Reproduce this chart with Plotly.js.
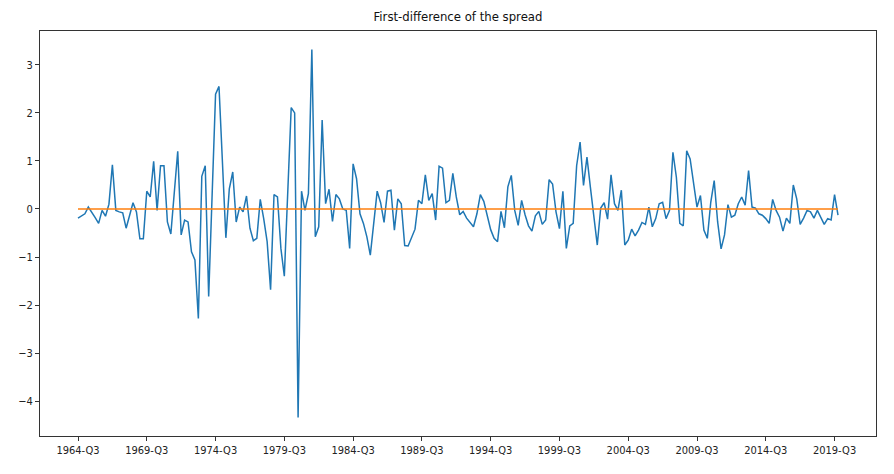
<!DOCTYPE html>
<html>
<head>
<meta charset="utf-8">
<script src="https://cdn.plot.ly/plotly-3.0.1.min.js"></script>
<style>html,body{margin:0;padding:0;background:#fff;}#chart{width:894px;height:474px;}</style>
</head>
<body>
<div id="chart"></div>
<script>
// First-difference of the spread, quarterly 1964-Q3 .. 2019-Q4
const startYear = 1964;
const startQuarter = 3;
const spreadDiff = [
 -0.19,-0.15,-0.10,0.04,-0.06,-0.18,-0.30,-0.03,-0.15,0.10,
 0.92,-0.03,-0.06,-0.08,-0.40,-0.15,0.13,-0.06,-0.62,-0.62,
 0.37,0.25,0.99,-0.03,0.90,0.90,-0.27,-0.52,0.30,1.20,
 -0.54,-0.23,-0.27,-0.89,-1.06,-2.28,0.68,0.90,-1.82,0.28,
 2.39,2.55,0.98,-0.60,0.42,0.77,-0.27,0.04,-0.06,0.27,
 -0.40,-0.66,-0.61,0.20,-0.20,-0.68,-1.68,0.30,0.25,-0.82,
 -1.40,0.35,2.11,2.00,-4.34,0.37,-0.03,0.32,3.32,-0.58,
 -0.37,1.85,0.11,0.41,-0.26,0.30,0.21,0.00,-0.03,-0.82,
 0.94,0.63,-0.10,-0.30,-0.58,-0.96,-0.30,0.37,0.13,-0.28,
 0.37,0.39,-0.44,0.21,0.11,-0.76,-0.77,-0.58,-0.42,0.18,
 0.11,0.71,0.18,0.32,-0.23,0.89,0.85,0.13,0.18,0.74,
 0.25,-0.12,-0.05,-0.19,-0.28,-0.37,-0.10,0.30,0.16,-0.14,
 -0.43,-0.61,-0.68,-0.05,-0.39,0.46,0.70,-0.03,-0.34,0.18,
 -0.12,-0.35,-0.46,-0.14,-0.05,-0.32,-0.23,0.61,0.52,-0.06,
 -0.41,0.37,-0.82,-0.35,-0.30,0.90,1.39,0.49,1.08,0.45,
 -0.10,-0.75,0.02,0.13,-0.21,0.71,0.11,-0.03,0.39,-0.75,
 -0.65,-0.42,-0.56,-0.44,-0.28,-0.32,0.04,-0.37,-0.20,0.11,
 0.14,-0.20,-0.03,1.18,0.66,-0.30,-0.35,1.21,1.04,0.49,
 0.04,0.28,-0.44,-0.61,0.14,0.59,-0.27,-0.83,-0.54,0.09,
 -0.17,-0.13,0.11,0.25,0.08,0.80,0.04,0.02,-0.10,-0.13,
 -0.20,-0.30,0.20,-0.03,-0.17,-0.46,-0.19,-0.30,0.50,0.21,
 -0.32,-0.19,-0.03,-0.06,-0.19,-0.03,-0.17,-0.32,-0.20,-0.23,
 0.30,-0.13
];
const tickLabels = ['1964-Q3','1969-Q3','1974-Q3','1979-Q3','1984-Q3','1989-Q3',
                    '1994-Q3','1999-Q3','2004-Q3','2009-Q3','2014-Q3','2019-Q3'];
const yTicks = [-4,-3,-2,-1,0,1,2,3];
const baseline = spreadDiff.map(() => 0);

// quarter category labels
const quarters = [];
{
  let y = startYear, q = startQuarter;
  for (let i = 0; i < spreadDiff.length; i++) {
    quarters.push(y + '-Q' + q);
    q++; if (q > 4) { q = 1; y++; }
  }
}

const n = spreadDiff.length;
const pad = 0.05 * (n - 1);
const ymin = Math.min(...spreadDiff), ymax = Math.max(...spreadDiff);
const ypad = 0.05 * (ymax - ymin);

const FONT = '"DejaVu Sans Condensed", "Liberation Sans Narrow", "DejaVu Sans", sans-serif';

const traces = [
  {x: quarters, y: spreadDiff, type: 'scatter', mode: 'lines',
   line: {color: '#1f77b4', width: 1.5}, hoverinfo: 'skip'},
  {x: quarters, y: baseline, type: 'scatter', mode: 'lines',
   line: {color: '#ff7f0e', width: 1.5}, hoverinfo: 'skip'}
];

const layout = {
  width: 894, height: 474,
  margin: {l: 40, r: 18, t: 31, b: 38},
  paper_bgcolor: '#fff', plot_bgcolor: '#fff',
  showlegend: false,
  font: {family: FONT, size: 11, color: '#222'},
  title: {text: 'First-difference of the spread', x: 0.5, xref: 'paper',
          y: 1 - 16/474, yref: 'container', yanchor: 'middle',
          font: {family: FONT, size: 13, color: '#111'}},
  xaxis: {type: 'category', range: [-pad, n - 1 + pad],
          tickmode: 'array', tickvals: tickLabels, ticktext: tickLabels,
          showgrid: false, zeroline: false, showline: true, mirror: true,
          linecolor: '#333', linewidth: 1, ticks: 'outside', ticklen: 4,
          tickcolor: '#333', tickangle: 0, tickfont: {family: FONT, size: 11, color: '#222'}},
  yaxis: {range: [ymin - ypad, ymax + ypad],
          tickmode: 'array', tickvals: yTicks, ticktext: yTicks.map(v => v < 0 ? '\u2212' + Math.abs(v) : String(v)),
          showgrid: false, zeroline: false, showline: true, mirror: true,
          linecolor: '#333', linewidth: 1, ticks: 'outside', ticklen: 4,
          tickcolor: '#333', tickfont: {family: FONT, size: 11, color: '#222'}}
};

Plotly.newPlot('chart', traces, layout, {staticPlot: true, displayModeBar: false});
</script>
</body>
</html>
